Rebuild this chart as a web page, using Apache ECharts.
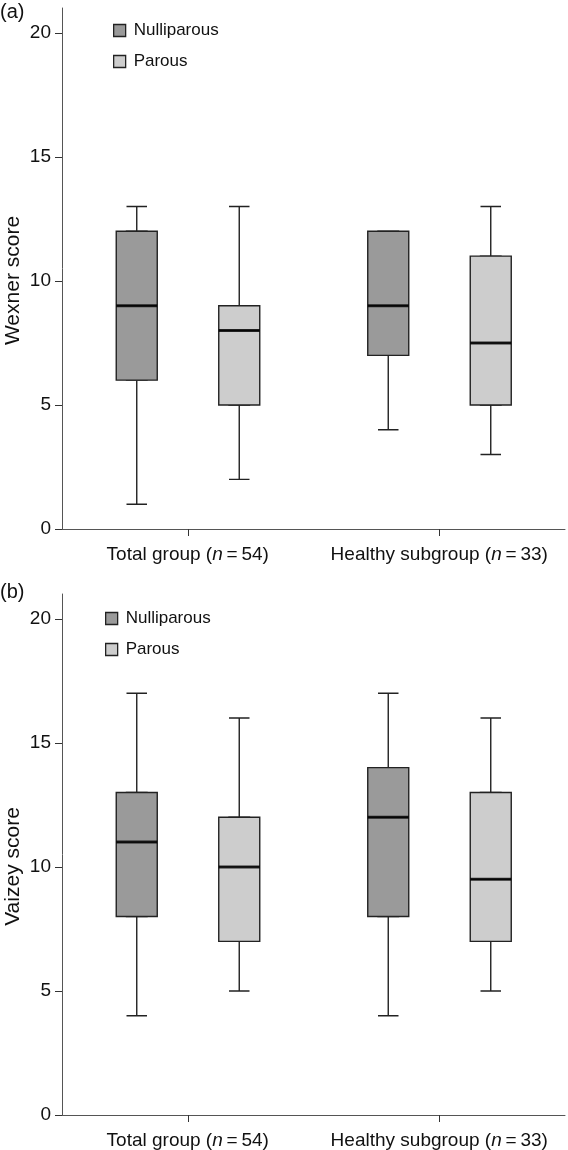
<!DOCTYPE html>
<html>
<head>
<meta charset="utf-8">
<script src="https://cdn.jsdelivr.net/npm/echarts@6/dist/echarts.min.js"></script>
<style>
html,body{margin:0;padding:0;background:#fff;}
#chart{width:568px;height:1150px;}
</style>
</head>
<body>
<div id="chart"></div>
<script>
// ---- data (min, Q1, median, Q3, max) ----
const categories = ['Total group (n=54)', 'Healthy subgroup (n=33)'];
const yTicks = [0, 5, 10, 15, 20];
const seriesNames = ['Nulliparous', 'Parous'];
const wexnerNulliparous = [[1, 6, 9, 12, 13], [4, 7, 9, 12, 12]];
const wexnerParous = [[2, 5, 8, 9, 13], [3, 5, 7.5, 11, 13]];
const vaizeyNulliparous = [[4, 8, 11, 13, 17], [4, 8, 12, 14, 17]];
const vaizeyParous = [[5, 7, 10, 12, 16], [5, 7, 9.5, 13, 16]];

// ---- styling / layout ----
const FONT = '"Liberation Sans", Arial, Helvetica, sans-serif';
const fills = ['#9a9a9a', '#cdcdcd'];
const edge = '#222222';
const axisColor = '#555555';
const gridLeft = 62, gridWidth = 503, gridHeight = 521;
const boxShift = [-51, 51.5];
const panels = [
  { top: 8, tag: '(a)', tagTop: 2, yName: 'Wexner score', legendLeft: 113, legendTop: 22,
    data: [wexnerNulliparous, wexnerParous] },
  { top: 594, tag: '(b)', tagTop: 582, yName: 'Vaizey score', legendLeft: 105, legendTop: 610,
    data: [vaizeyNulliparous, vaizeyParous] }
];

const option = {
  animation: false,
  backgroundColor: '#fff',
  title: [], legend: [], grid: [], xAxis: [], yAxis: [], series: []
};

function labelFmt(v) {
  return v.replace('(n=', '({i|n}\u2009=\u2009');
}

panels.forEach(function (p) {
  option.title.push({
    text: p.tag, left: 0, top: p.tagTop, padding: 0,
    textStyle: { fontFamily: FONT, fontSize: 20, fontWeight: 'normal', color: '#111' }
  });
  option.legend.push({
    data: seriesNames.map(function (n, i) {
      return { name: n, itemStyle: { color: fills[i], borderColor: edge, borderWidth: 1.3 } };
    }),
    orient: 'vertical', left: p.legendLeft, top: p.legendTop, padding: 0,
    itemWidth: 12, itemHeight: 12, itemGap: 14, icon: 'rect', selectedMode: false,
    textStyle: { fontFamily: FONT, fontSize: 17, color: '#111', padding: [0, 0, 0, 3] }
  });
  // visible axes grid
  const gi = option.grid.length;
  option.grid.push({ left: gridLeft, top: p.top, width: gridWidth, height: gridHeight, outerBoundsMode: 'none' });
  option.xAxis.push({
    gridIndex: gi, type: 'category', data: categories, boundaryGap: true,
    axisLine: { show: true, lineStyle: { color: axisColor, width: 1 } },
    axisTick: { show: true, interval: 0, alignWithLabel: true, length: 7, lineStyle: { color: '#333', width: 1 } },
    axisLabel: {
      interval: 0, hideOverlap: false,
      margin: 16, color: '#111', fontFamily: FONT, fontSize: 19, formatter: labelFmt,
      rich: { i: { fontStyle: 'italic', fontFamily: FONT, fontSize: 19, color: '#111' } }
    },
    splitLine: { show: false }
  });
  option.yAxis.push({
    gridIndex: gi, type: 'value', min: 0, max: 21,
    name: p.yName, nameLocation: 'middle', nameRotate: 90, nameGap: 38, nameMoveOverlap: false,
    nameTextStyle: { fontFamily: FONT, fontSize: 21, color: '#111', padding: [0, 24, 0, 0] },
    axisLine: { show: true, lineStyle: { color: axisColor, width: 1 } },
    axisTick: { show: true, length: 7, customValues: yTicks, lineStyle: { color: '#333', width: 1 } },
    axisLabel: { margin: 11, customValues: yTicks, color: '#111', fontFamily: FONT, fontSize: 19 },
    splitLine: { show: false }
  });

  p.data.forEach(function (vals, si) {
    // back layer: whiskers with short caps; front layer: the box itself
    ['whisker', 'box'].forEach(function (layer) {
      const g = option.grid.length;
      option.grid.push({ left: gridLeft + boxShift[si], top: p.top, width: gridWidth, height: gridHeight, outerBoundsMode: 'none' });
      option.xAxis.push({ gridIndex: g, type: 'category', data: categories, show: false });
      option.yAxis.push({ gridIndex: g, type: 'value', min: 0, max: 21, show: false });
      const isBox = layer === 'box';
      option.series.push({
        name: isBox ? seriesNames[si] : seriesNames[si] + ' whisker',
        type: 'boxplot', xAxisIndex: g, yAxisIndex: g,
        boxWidth: isBox ? [41, 41] : [20.5, 20.5],
        z: isBox ? 3 : 2,
        itemStyle: { color: fills[si], borderColor: edge, borderWidth: 1.4 },
        emphasis: { disabled: true },
        data: vals.map(function (v) {
          return isBox ? [v[1], v[1], v[2], v[3], v[3]] : v.slice();
        })
      });
      if (isBox) {
        option.series.push({
          name: seriesNames[si] + ' median', type: 'scatter', xAxisIndex: g, yAxisIndex: g,
          symbol: 'rect', symbolSize: [41, 3], z: 5,
          itemStyle: { color: '#000' },
          emphasis: { disabled: true },
          data: vals.map(function (v, ci) { return [ci, v[2]]; })
        });
      }
    });
  });
});

const chart = echarts.init(document.getElementById('chart'), null, { renderer: 'canvas' });
chart.setOption(option);
</script>
</body>
</html>
